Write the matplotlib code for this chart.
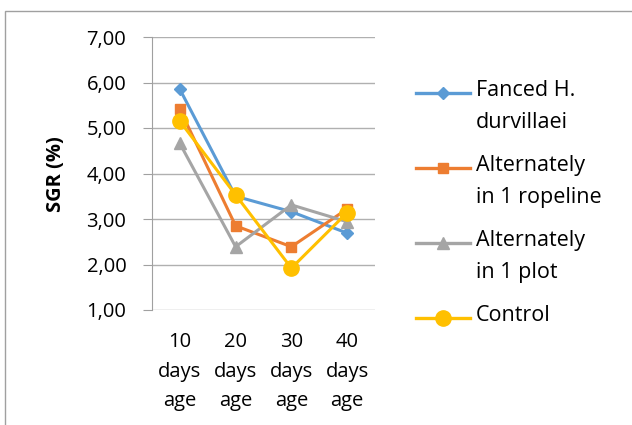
import numpy as np
import matplotlib.pyplot as plt
from matplotlib.lines import Line2D
from matplotlib.patches import Rectangle

categories = ["10\ndays\nage", "20\ndays\nage", "30\ndays\nage", "40\ndays\nage"]
series_names = ["Fanced H.\ndurvillaei", "Alternately\nin 1 ropeline", "Alternately\nin 1 plot", "Control"]
fanced = [5.85, 3.50, 3.16, 2.69]
rope = [5.41, 2.85, 2.39, 3.22]
plot1 = [4.66, 2.39, 3.31, 2.94]
control = [5.15, 3.53, 1.92, 3.14]
yticks = [1, 2, 3, 4, 5, 6, 7]

series = [fanced, rope, plot1, control]
colors = ["#5B9BD5", "#ED7D31", "#A5A5A5", "#FFC000"]
markers = ["D", "s", "^", "o"]
msizes = [6, 7, 8, 11]

plt.rcParams['font.family'] = ['Open Sans', 'DejaVu Sans']

fig = plt.figure(figsize=(6.32, 4.25), dpi=100)
fig.add_artist(Rectangle((5 / 632, -0.1), 1.2, 1 - 11 / 425 + 0.1, transform=fig.transFigure,
                         fill=False, edgecolor="#a0a0a0", linewidth=1))
ax = fig.add_axes([152 / 632, 1 - 310 / 425, 223 / 632, 273 / 425])

x = np.arange(len(categories))
for vals, c, m, ms in zip(series, colors, markers, msizes):
    ax.plot(x, vals, color=c, marker=m, markersize=ms, linewidth=2.2, zorder=3)

ax.set_xlim(-0.5, 3.5)
ax.set_ylim(1, 7)
ax.set_yticks(yticks)
ax.set_yticklabels([f"{v:.2f}".replace(".", ",") for v in yticks], fontsize=14.5)
ax.set_xticks(x)
ax.set_xticklabels(categories, fontsize=14.5, linespacing=1.62)
ax.grid(axis="y", color="#b0b0b0", linewidth=1)
ax.set_axisbelow(True)
for s in ["top", "right", "bottom"]:
    ax.spines[s].set_visible(False)
ax.spines["left"].set_color("#a0a0a0")
ax.tick_params(axis="y", length=6.5, color="#a0a0a0", pad=12)
ax.tick_params(axis="x", length=0, pad=16)
ax.set_ylabel("SGR (%)", fontsize=14.5, fontweight="bold")
ax.yaxis.set_label_coords(-0.385, 0.498)

# legend
leg_y = [93, 168, 243, 318]
for name, c, m, ms, yy in zip(series_names, colors, markers, msizes, leg_y):
    fy = 1 - yy / 425
    fig.add_artist(Line2D([416 / 632, 470 / 632], [fy, fy], transform=fig.transFigure,
                          color=c, linewidth=2.4))
    fig.add_artist(Line2D([443 / 632], [fy], transform=fig.transFigure, color=c,
                          marker=m, markersize=ms))
    fig.text(476 / 632, fy + 13 / 425, name, fontsize=15.5, va="top", ha="left",
             linespacing=1.68)

fig.savefig("out.png", dpi=100)
